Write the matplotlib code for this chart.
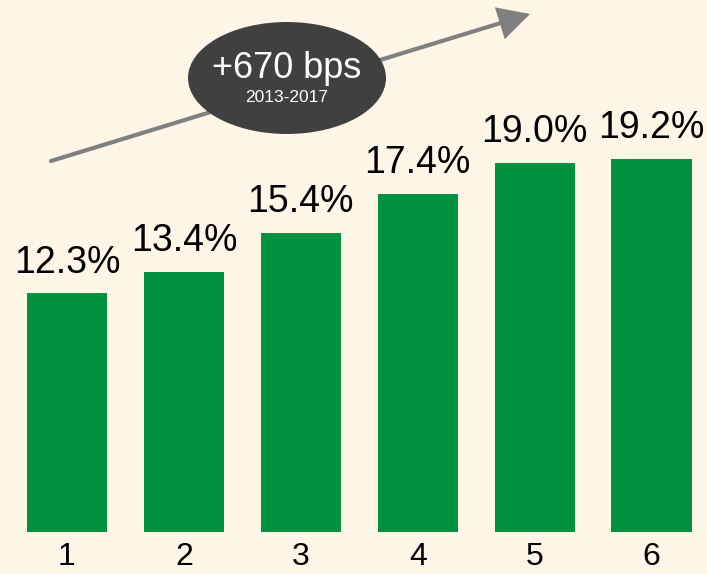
import matplotlib
matplotlib.use("Agg")
import matplotlib.pyplot as plt
from matplotlib.patches import Ellipse, FancyArrowPatch

categories = ["1", "2", "3", "4", "5", "6"]
values = [12.3, 13.4, 15.4, 17.4, 19.0, 19.2]
labels = ["12.3%", "13.4%", "15.4%", "17.4%", "19.0%", "19.2%"]
badge_main = "+670 bps"
badge_sub = "2013-2017"

BG = "#FFF6E7"
GREEN = "#00923F"

plt.rcParams["font.family"] = ["Liberation Sans", "DejaVu Sans"]

W, H = 707, 574
fig = plt.figure(figsize=(W / 100, H / 100), dpi=100, facecolor=BG)
ax = fig.add_axes([0, 1 - 532 / H, 1, 532 / H])
ax.set_facecolor(BG)

x = list(range(1, len(values) + 1))
ax.bar(x, values, width=0.685, color=GREEN, zorder=2)
ax.set_xlim(1 - 67 / 116.9, 1 + (W - 67) / 116.9)
ax.set_ylim(0, 532 / 19.43)

for xi, v, lab in zip(x, values, labels):
    ax.annotate(lab, (xi, v), xytext=(0, 9), textcoords="offset points",
                ha="center", va="bottom", fontsize=27, color="black")

ax.set_xticks(x)
ax.set_xticklabels(categories, fontsize=23)
ax.tick_params(axis="x", length=0, pad=7)
ax.set_yticks([])
for s in ax.spines.values():
    s.set_visible(False)

# trend arrow in figure pixel fractions
def fx(px):
    return px / W

def fy(py):
    return 1 - py / H

fig.patches.append(FancyArrowPatch(
    (fx(51), fy(161)), (fx(530), fy(14)), transform=fig.transFigure,
    arrowstyle="-|>,head_length=18,head_width=9.5", mutation_scale=1,
    color="#808080", lw=3, shrinkA=0, shrinkB=0, joinstyle="miter",
    zorder=3))

ell = Ellipse((fx(287), fy(78)), 198 / W, 112 / H, transform=fig.transFigure,
              facecolor="#404040", edgecolor="none", zorder=4)
fig.patches.append(ell)
fig.text(fx(287), fy(69), badge_main, ha="center", va="center",
         fontsize=26, color="white", zorder=5)
fig.text(fx(287), fy(97), badge_sub, ha="center", va="center",
         fontsize=12.5, color="white", zorder=5)

fig.savefig("out.png", dpi=100, facecolor=BG)
